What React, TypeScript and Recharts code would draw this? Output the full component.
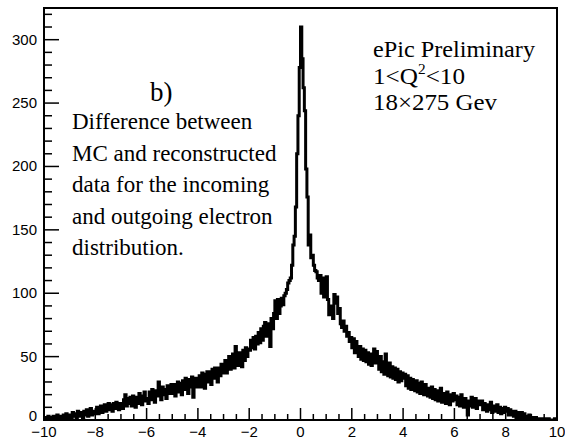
import React from 'react';
import { LineChart, Line, XAxis, YAxis, ReferenceArea } from 'recharts';

// Histogram counts, 0.05-wide bins, one array per unit of x
const binsM10 = [2, 0, 1, 3, 0, 2, 1, 3, 0, 2, 4, 1, 2, 3, 1, 4, 2, 5, 3, 2];
const binsM9 = [4, 2, 6, 3, 5, 2, 7, 4, 3, 6, 2, 7, 4, 8, 3, 6, 9, 4, 7, 5];
const binsM8 = [6, 10, 5, 9, 11, 6, 10, 12, 7, 11, 13, 8, 12, 7, 13, 9, 14, 10, 8, 13];
const binsM7 = [12, 9, 16, 20, 11, 17, 13, 18, 11, 19, 14, 10, 18, 13, 21, 15, 12, 19, 22, 15];
const binsM6 = [17, 13, 22, 16, 24, 18, 14, 23, 19, 30, 25, 16, 26, 20, 24, 17, 27, 21, 25, 28];
const binsM5 = [21, 28, 19, 27, 30, 22, 29, 20, 31, 24, 33, 25, 21, 32, 26, 34, 18, 29, 33, 26];
const binsM4 = [28, 35, 26, 37, 30, 25, 36, 38, 30, 38, 28, 40, 33, 41, 34, 30, 41, 35, 44, 37];
const binsM3 = [39, 47, 37, 46, 50, 40, 48, 52, 41, 58, 45, 43, 53, 46, 42, 55, 47, 57, 50, 56];
const binsM2 = [55, 63, 57, 65, 56, 66, 60, 69, 61, 72, 63, 74, 77, 66, 76, 69, 58, 80, 72, 84];
const binsM1 = [94, 80, 95, 84, 90, 96, 91, 98, 100, 103, 108, 110, 112, 122, 138, 145, 168, 210, 240, 278];
const binsP0 = [310, 285, 262, 244, 198, 176, 138, 146, 128, 130, 122, 118, 117, 112, 110, 114, 100, 112, 97, 108];
const binsP1 = [113, 95, 83, 90, 86, 80, 99, 92, 97, 84, 88, 76, 73, 78, 70, 74, 66, 69, 62, 65];
const binsP2 = [57, 64, 53, 62, 55, 50, 58, 48, 56, 47, 55, 46, 53, 44, 52, 43, 51, 56, 45, 54];
const binsP3 = [48, 40, 50, 38, 46, 36, 52, 39, 35, 45, 34, 42, 33, 41, 32, 40, 30, 38, 31, 37];
const binsP4 = [33, 36, 27, 35, 25, 33, 24, 32, 27, 23, 31, 22, 29, 21, 30, 24, 20, 28, 23, 19];
const binsP5 = [25, 18, 26, 17, 24, 16, 23, 15, 21, 25, 14, 21, 17, 13, 22, 16, 12, 20, 15, 21];
const binsP6 = [16, 19, 12, 18, 11, 20, 13, 10, 17, 12, 4, 15, 11, 18, 10, 14, 17, 9, 13, 15];
const binsP7 = [12, 15, 8, 13, 9, 7, 12, 8, 14, 6, 11, 7, 10, 12, 6, 10, 5, 9, 6, 10];
const binsP8 = [7, 9, 4, 8, 4, 7, 3, 7, 2, 6, 4, 1, 6, 2, 5, 2, 3, 1, 4, 1];
const binsP9 = [2, 1, 1, 2, 0, 1, 1, 0, 1, 0, 1, 0, 0, 1, 0, 0, 0, 0, 1, 0];

const X_MIN = -10;
const X_MAX = 10;
const BIN_WIDTH = 0.05;
const Y_MAX = 325;

const xTicks = [
  -10, -9.5, -9, -8.5, -8, -7.5, -7, -6.5, -6, -5.5, -5, -4.5, -4, -3.5, -3, -2.5, -2, -1.5, -1, -0.5,
  0, 0.5, 1, 1.5, 2, 2.5, 3, 3.5, 4, 4.5, 5, 5.5, 6, 6.5, 7, 7.5, 8, 8.5, 9, 9.5, 10,
];
const xMajor = [-10, -8, -6, -4, -2, 0, 2, 4, 6, 8, 10];
const yTicks = [
  0, 10, 20, 30, 40, 50, 60, 70, 80, 90, 100, 110, 120, 130, 140, 150, 160, 170, 180, 190, 200,
  210, 220, 230, 240, 250, 260, 270, 280, 290, 300, 310, 320,
];
const yMajor = [0, 50, 100, 150, 200, 250, 300];

const annotationLines = [
  'Difference between',
  'MC and reconstructed',
  'data for the incoming',
  'and outgoing electron',
  'distribution.',
];

const counts = [
  ...binsM10, ...binsM9, ...binsM8, ...binsM7, ...binsM6, ...binsM5, ...binsM4, ...binsM3, ...binsM2, ...binsM1,
  ...binsP0, ...binsP1, ...binsP2, ...binsP3, ...binsP4, ...binsP5, ...binsP6, ...binsP7, ...binsP8, ...binsP9,
];
const data = counts.map((c, i) => ({ x: Math.round((X_MIN + i * BIN_WIDTH) * 100) / 100, y: c }));
data.push({ x: X_MAX, y: counts[counts.length - 1] });

const sans = "'Liberation Sans', Arial, Helvetica, sans-serif";

const fmt = (v: number) => (v < 0 ? '\u2212' + Math.abs(v) : String(v));

const renderXTick = (props: any) => {
  const { x, y, payload } = props;
  const v = payload.value;
  const major = xMajor.includes(v);
  return (
    <g>
      <line x1={x} x2={x} y1={y} y2={y - (major ? 12 : 6)} stroke="#000" strokeWidth={1.5} />
      {major && (
        <text x={x} y={y + 17} textAnchor="middle" style={{ fontSize: 15, fontFamily: sans }} fill="#000">
          {fmt(v)}
        </text>
      )}
    </g>
  );
};

const renderYTick = (props: any) => {
  const { x, y, payload } = props;
  const v = payload.value;
  const major = yMajor.includes(v);
  return (
    <g>
      <line x1={x} x2={x + (major ? 15 : 8)} y1={y} y2={y} stroke="#000" strokeWidth={1.5} />
      {major && (
        <text x={x - 7} y={y + (v === 0 ? 1 : 5)} textAnchor="end" style={{ fontSize: 15, fontFamily: sans }} fill="#000">
          {fmt(v)}
        </text>
      )}
    </g>
  );
};

export default function App() {
  return (
    <div style={{ position: 'absolute', left: 0, top: 0, width: 565, height: 440, background: '#fff' }}>
      <LineChart width={565} height={440} data={data} margin={{ top: 8, right: 8, left: 0, bottom: 0 }}>
        <XAxis
          type="number"
          dataKey="x"
          domain={[X_MIN, X_MAX]}
          ticks={xTicks}
          interval={0}
          tickSize={0}
          tickMargin={0}
          tick={renderXTick}
          axisLine={false}
          tickLine={false}
          height={20}
          allowDataOverflow
        />
        <YAxis
          type="number"
          domain={[0, Y_MAX]}
          ticks={yTicks}
          interval={0}
          tickSize={0}
          tickMargin={0}
          tick={renderYTick}
          axisLine={false}
          tickLine={false}
          width={44}
          allowDataOverflow
        />
        <Line
          type="stepAfter"
          dataKey="y"
          stroke="#000"
          strokeWidth={3}
          dot={false}
          activeDot={false}
          isAnimationActive={false}
        />
        <ReferenceArea
          x1={X_MIN}
          x2={X_MAX}
          y1={0}
          y2={Y_MAX}
          fill="none"
          fillOpacity={0}
          stroke="#000"
          strokeWidth={2}
          ifOverflow="visible"
        />
      </LineChart>
      <svg
        width={565}
        height={440}
        fontFamily="Liberation Serif"
        style={{ position: 'absolute', left: 0, top: 0, pointerEvents: 'none' }}
      >
        <text x={150} y={101} fontSize={27} fontFamily="Liberation Serif" fill="#000">b)</text>
        {annotationLines.map((t, i) => (
          <text key={i} x={72} y={129 + i * 31.5} fontSize={23} fontFamily="Liberation Serif" fill="#000">
            {t}
          </text>
        ))}
        <text x={373} y={57} fontSize={23} fontFamily="Liberation Serif" fill="#000" textLength={162} lengthAdjust="spacingAndGlyphs">
          ePic Preliminary
        </text>
        <text x={373} y={83.5} fontSize={23} fontFamily="Liberation Serif" fill="#000" textLength={92} lengthAdjust="spacingAndGlyphs">
          1&lt;Q<tspan dy={-10} fontSize={14}>2</tspan><tspan dy={10}>&lt;10</tspan>
        </text>
        <text x={373} y={110} fontSize={23} fontFamily="Liberation Serif" fill="#000" textLength={124} lengthAdjust="spacingAndGlyphs">
          18×275 Gev
        </text>
      </svg>
    </div>
  );
}
